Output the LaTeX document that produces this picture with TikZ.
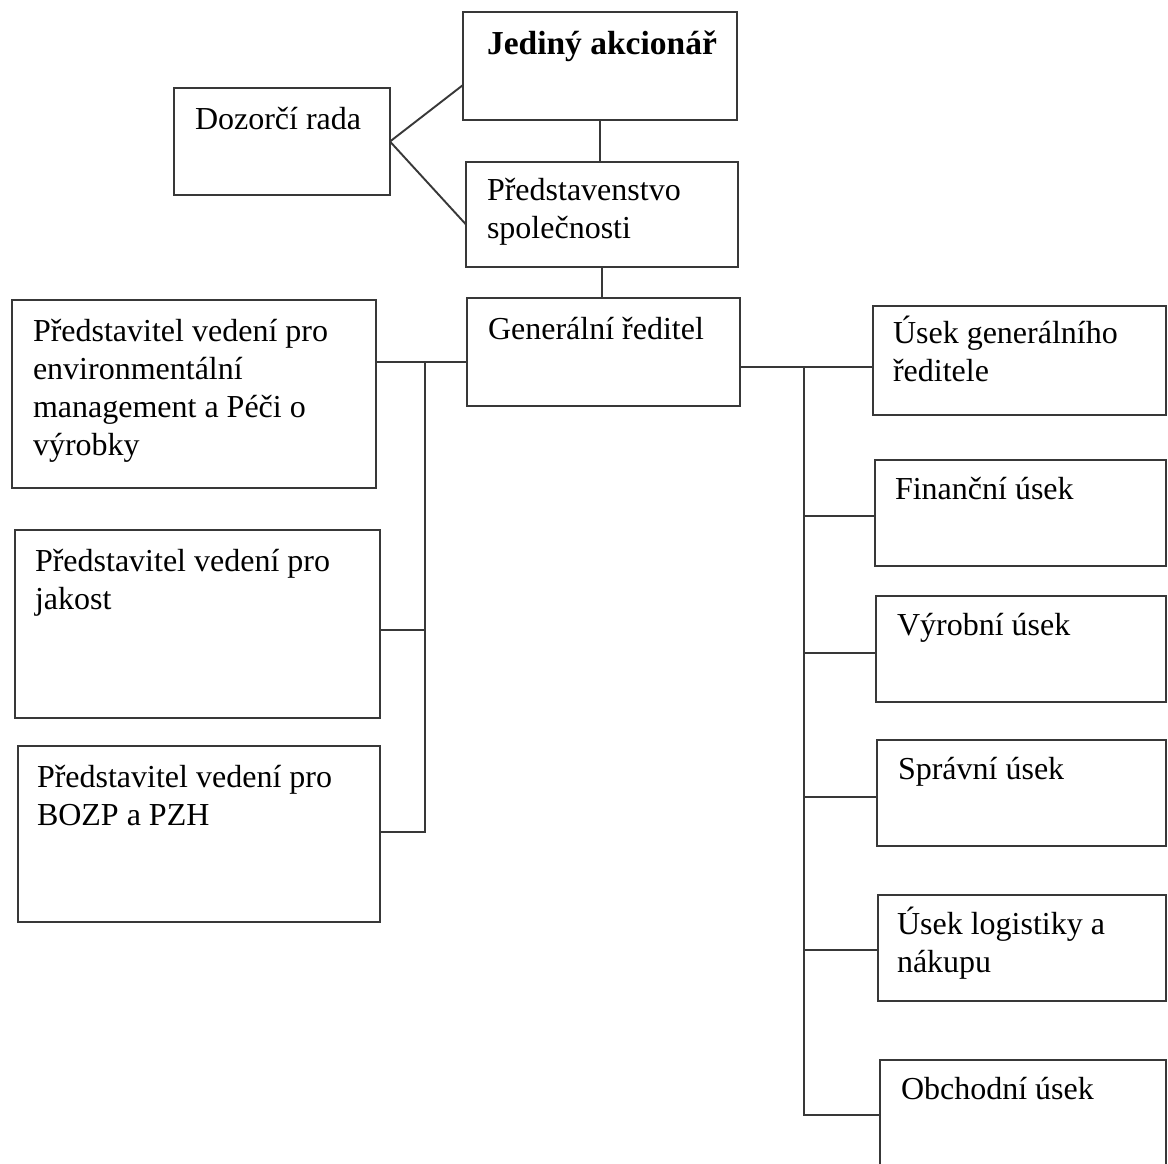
\documentclass[tikz,border=0pt]{standalone}
\usepackage{fontspec}
\setmainfont{Liberation Serif}
\newcommand{\mlines}[1]{\vtop{\halign{##\hfil\cr#1\crcr}}}
\definecolor{ink}{gray}{0.22}
\begin{document}
\begin{tikzpicture}[x=1pt,y=-1pt,
  box/.style={draw=ink, line width=1.9pt, anchor=north west, inner sep=0pt, outer sep=0pt},
  txt/.style={anchor=base west, inner sep=0pt, outer sep=0pt, text=black, font=\fontsize{32}{38}\selectfont},
  link/.style={draw=ink, line width=1.9pt}]
\useasboundingbox (0,0) rectangle (1168,1163);
\clip (0,0) rectangle (1168,1163);
\fill[white] (0,0) rectangle (1168,1163);
% boxes
\node[box, minimum width=216pt, minimum height=107pt] (dr) at (174,88) {};
\node[box, minimum width=274pt, minimum height=108pt] (ja) at (463,12) {};
\node[box, minimum width=272pt, minimum height=105pt] (ps) at (466,162) {};
\node[box, minimum width=273pt, minimum height=108pt] (gr) at (467,298) {};
\node[box, minimum width=364pt, minimum height=188pt] (l1) at (12,300) {};
\node[box, minimum width=365pt, minimum height=188pt] (l2) at (15,530) {};
\node[box, minimum width=362pt, minimum height=176pt] (l3) at (18,746) {};
\node[box, minimum width=293pt, minimum height=109pt] (r1) at (873,306) {};
\node[box, minimum width=291pt, minimum height=106pt] (r2) at (875,460) {};
\node[box, minimum width=290pt, minimum height=106pt] (r3) at (876,596) {};
\node[box, minimum width=289pt, minimum height=106pt] (r4) at (877,740) {};
\node[box, minimum width=288pt, minimum height=106pt] (r5) at (878,895) {};
\node[box, minimum width=286pt, minimum height=130pt] (r6) at (880,1060) {};
% texts
\node[txt] (drt) at ([xshift=21pt,yshift=-41pt]dr.north west) {Dozorčí rada};
\node[txt] (jat) at ([xshift=24pt,yshift=-42pt]ja.north west) {\fontsize{33.5}{38}\selectfont\bfseries Jediný akcionář};
\node[txt] (pst) at ([xshift=21pt,yshift=-38pt]ps.north west) {\mlines{Představenstvo\cr společnosti}};
\node[txt] (grt) at ([xshift=21pt,yshift=-41pt]gr.north west) {Generální ředitel};
\node[txt] (l1t) at ([xshift=21pt,yshift=-41pt]l1.north west) {\mlines{Představitel vedení pro\cr environmentální\cr management a Péči o\cr výrobky}};
\node[txt] (l2t) at ([xshift=20pt,yshift=-41pt]l2.north west) {\mlines{Představitel vedení pro\cr jakost}};
\node[txt] (l3t) at ([xshift=19pt,yshift=-41pt]l3.north west) {\mlines{Představitel vedení pro\cr BOZP a PZH}};
\node[txt] (r1t) at ([xshift=20pt,yshift=-37pt]r1.north west) {\mlines{Úsek generálního\cr ředitele}};
\node[txt] (r2t) at ([xshift=20pt,yshift=-39pt]r2.north west) {Finanční úsek};
\node[txt] (r3t) at ([xshift=21pt,yshift=-39pt]r3.north west) {Výrobní úsek};
\node[txt] (r4t) at ([xshift=21pt,yshift=-39pt]r4.north west) {Správní úsek};
\node[txt] (r5t) at ([xshift=19pt,yshift=-39pt]r5.north west) {\mlines{Úsek logistiky a\cr nákupu}};
\node[txt] (r6t) at ([xshift=21pt,yshift=-39pt]r6.north west) {Obchodní úsek};
% connectors top
\draw[link] (dr.east) -- ([yshift=-19pt]ja.west);
\draw[link] (dr.east) -- ([yshift=-10pt]ps.west);
\draw[link] (ja.south) -- (ja.south |- ps.north);
\draw[link] (ps.south) -- (ps.south |- gr.north);
% left bus
\coordinate (lbus) at (425,362);
\coordinate (grl) at ([yshift=-10pt]gr.west);
\coordinate (l2c) at ([yshift=-6pt]l2.east);
\coordinate (l3c) at ([yshift=2pt]l3.east);
\draw[link] (grl) -- (l1.east |- grl);
\draw[link] (lbus) -- (lbus |- l3c) -- (l3c);
\draw[link] (l2c) -- (lbus |- l2c);
% right bus
\coordinate (grr) at ([yshift=-15pt]gr.east);
\coordinate (rbus) at (804,367);
\coordinate (r2c) at ([yshift=-3pt]r2.west);
\coordinate (r3c) at ([yshift=-4pt]r3.west);
\coordinate (r4c) at ([yshift=-4pt]r4.west);
\coordinate (r5c) at ([yshift=-2pt]r5.west);
\coordinate (r6c) at ([yshift=10pt]r6.west);
\draw[link] (grr) -- (r1.west |- grr);
\draw[link] (rbus) -- (rbus |- r6c) -- (r6c);
\draw[link] (rbus |- r2c) -- (r2c);
\draw[link] (rbus |- r3c) -- (r3c);
\draw[link] (rbus |- r4c) -- (r4c);
\draw[link] (rbus |- r5c) -- (r5c);
\end{tikzpicture}
\end{document}
